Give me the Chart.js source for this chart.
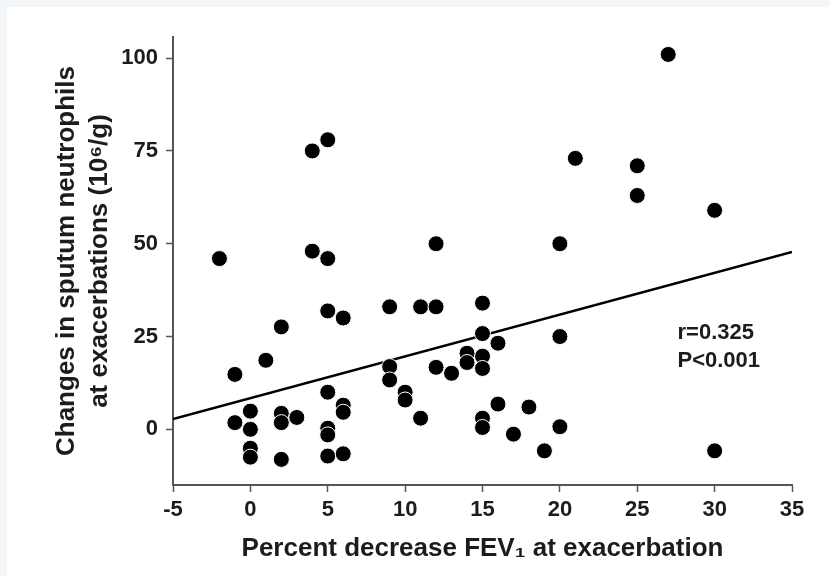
<!DOCTYPE html>
<html>
<head>
<meta charset="utf-8">
<script src="https://cdn.jsdelivr.net/npm/chart.js@4.4.1/dist/chart.umd.min.js"></script>
<style>
  body { margin: 0; background: #f2f6f9; }
  #panel { position: absolute; left: 7px; top: 7px; width: 822px; height: 569px; background: #fff; }
</style>
</head>
<body>
<div id="panel"><canvas id="scatter" width="822" height="569"></canvas></div>
<script>
// ==========================================
// data
// ==========================================
const fevDrop = [-2, 4, 5, 4, 5, 12, 27, 21, 25, 25, 30, 20, 15, 15, 16, 20, 15, 15, 16, 18, 20, 17, 19, 30, 15, 15,
  -1, 1, 2, 5, 6, 9, 11, 12, -1, 0, 0, 0, 0, 2, 2, 3, 2, 5, 5, 5, 5, 6, 6, 6, 9, 9, 10, 10, 11, 12, 13, 14, 14];
const neutroChange = [46, 75, 78, 48, 46, 50, 101, 73, 71, 63, 59, 50, 34, 25.8, 23.2, 25, 19.7, 16.4, 6.8, 6, 0.7, -1.3, -5.8, -5.8, 3, 0.5,
  14.8, 18.6, 27.6, 31.9, 30, 33, 33, 33, 1.8, 4.9, 0, -5.1, -7.5, 4.3, 1.8, 3.2, -8.1, 10, 0.3, -1.5, -7.2, 6.5, 4.6, -6.6, 16.9, 13.3, 10, 7.9, 3, 16.7, 15.1, 20.5, 18];
const fitX = [-5, 35];
const fitY = [2.8, 47.8];
const yTicks = [0, 25, 50, 75, 100];
const statLines = ['r=0.325', 'P<0.001'];
const statAt = { x: 27.6, y: 26 };

const FONT = "'Liberation Sans', Arial, sans-serif";
const INK = '#1c1c1c';
const AXIS = '#555';

// r / P text inside the plot
const statText = {
  id: 'statText',
  afterDatasetsDraw(chart) {
    const { ctx, scales: { x, y } } = chart;
    const px = x.getPixelForValue(statAt.x), py = y.getPixelForValue(statAt.y);
    ctx.save();
    ctx.font = `bold 22px ${FONT}`; ctx.fillStyle = INK; ctx.textAlign = 'left'; ctx.textBaseline = 'middle';
    statLines.forEach((t, i) => ctx.fillText(t, px, py + i * 27.7));
    ctx.restore();
  }
};

new Chart(document.getElementById('scatter'), {
  type: 'scatter',
  data: {
    datasets: [
      { type: 'line', data: fitX.map((v, i) => ({ x: v, y: fitY[i] })), borderColor: '#000', borderWidth: 2.5, pointRadius: 0, fill: false, order: 2 },
      { data: fevDrop.map((v, i) => ({ x: v, y: neutroChange[i] })), backgroundColor: '#000', borderColor: '#fff', borderWidth: 1, pointRadius: 8, order: 1 }
    ]
  },
  options: {
    responsive: false, animation: false,
    layout: { padding: { left: 0, right: 37, top: 30, bottom: 0 } },
    plugins: { legend: { display: false }, tooltip: { enabled: false } },
    scales: {
      x: {
        type: 'linear', min: -5, max: 35,
        afterFit: s => { s.height = 91; },
        ticks: { stepSize: 5, color: INK, padding: 5, font: { family: FONT, size: 22, weight: 'bold' } },
        grid: { drawOnChartArea: false, color: AXIS, tickLength: 7, tickWidth: 1.5 },
        border: { color: AXIS, width: 2 },
        title: { display: true, text: 'Percent decrease FEV\u2081 at exacerbation', color: INK, padding: { top: 0, bottom: 12 }, font: { family: FONT, size: 26, weight: 'bold', lineHeight: 1.2 } }
      },
      y: {
        type: 'linear', min: -15, max: 105.7,
        afterFit: s => { s.width = 166; },
        afterBuildTicks: s => { s.ticks = yTicks.map(v => ({ value: v })); },
        ticks: { color: INK, padding: 8, font: { family: FONT, size: 22, weight: 'bold' } },
        grid: { drawOnChartArea: false, color: AXIS, tickLength: 7, tickWidth: 1.5 },
        border: { color: AXIS, width: 2 },
        title: { display: true, text: ['Changes in sputum neutrophils', 'at exacerbations (10\u2076/g)'], color: INK, padding: { top: 43, bottom: 0 }, font: { family: FONT, size: 26, weight: 'bold', lineHeight: 1.28 } }
      }
    }
  },
  plugins: [statText]
});
</script>
</body>
</html>
